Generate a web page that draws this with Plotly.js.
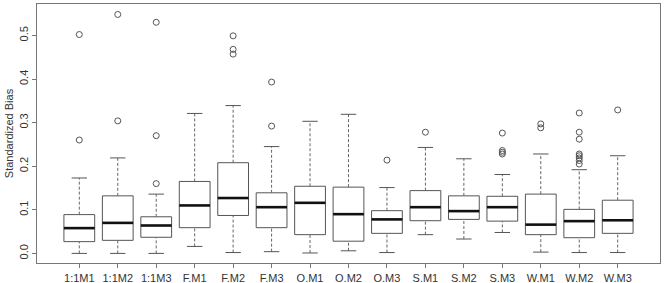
<!DOCTYPE html>
<html><head><meta charset="utf-8">
<script src="https://cdn.plot.ly/plotly-3.0.1.min.js"></script>
<style>html,body{margin:0;padding:0;background:#fff}#chart{width:664px;height:283px}</style>
</head><body><div id="chart"></div>
<script>
const labels = ['1:1M1','1:1M2','1:1M3','F.M1','F.M2','F.M3','O.M1','O.M2','O.M3','S.M1','S.M2','S.M3','W.M1','W.M2','W.M3'];
const lowW  = [0.000,0.000,0.000,0.016,0.002,0.004,0.001,0.006,0.002,0.043,0.033,0.048,0.003,0.002,0.002];
const q1    = [0.027,0.030,0.037,0.059,0.087,0.059,0.043,0.028,0.046,0.075,0.078,0.074,0.043,0.036,0.046];
const med   = [0.058,0.070,0.064,0.110,0.127,0.106,0.116,0.090,0.078,0.106,0.097,0.106,0.066,0.074,0.076];
const q3    = [0.089,0.132,0.084,0.165,0.208,0.139,0.154,0.152,0.098,0.144,0.132,0.131,0.136,0.101,0.122];
const highW = [0.173,0.219,0.136,0.321,0.339,0.245,0.303,0.319,0.151,0.243,0.217,0.181,0.228,0.192,0.224];
const outliers = [
  [0.260,0.502],[0.304,0.548],[0.160,0.270,0.530],[],[0.457,0.468,0.499],[0.292,0.393],
  [],[],[0.214],[0.278],[],[0.228,0.232,0.236,0.276],[0.288,0.297],
  [0.205,0.213,0.219,0.224,0.228,0.262,0.278,0.322],[0.329]
];

const pos = labels.map((_, i) => i + 1);
const BW = 0.8, CAP = 0.4;
const boxCol = '#555', textCol = '#333';

const wx = [], wy = [];
pos.forEach((p, i) => { wx.push(p, p, null, p, p, null); wy.push(lowW[i], q1[i], null, q3[i], highW[i], null); });
const cx = [], cy = [];
pos.forEach((p, i) => {
  cx.push(p - CAP/2, p + CAP/2, null, p - CAP/2, p + CAP/2, null);
  cy.push(lowW[i], lowW[i], null, highW[i], highW[i], null);
});
const mx = [], my = [];
pos.forEach((p, i) => { mx.push(p - BW/2, p + BW/2, null); my.push(med[i], med[i], null); });
const ox = [], oy = [];
outliers.forEach((arr, i) => arr.forEach(v => { ox.push(pos[i]); oy.push(v); }));

const traces = [
  {type:'scatter', mode:'lines', x:wx, y:wy, line:{color:'#666', width:1, dash:'3px,2px'}, hoverinfo:'skip', showlegend:false},
  {type:'scatter', mode:'lines', x:cx, y:cy, line:{color:boxCol, width:1}, hoverinfo:'skip', showlegend:false},
  {type:'box', x:pos, q1:q1, median:med, q3:q3, lowerfence:q1, upperfence:q3, width:BW,
   fillcolor:'#fff', line:{color:boxCol, width:1}, whiskerwidth:0, boxpoints:false, showlegend:false, hoverinfo:'skip'},
  {type:'scatter', mode:'lines', x:mx, y:my, line:{color:'#111', width:2.6}, hoverinfo:'skip', showlegend:false},
  {type:'scatter', mode:'markers', x:ox, y:oy, marker:{symbol:'circle-open', size:6, color:'#555', line:{width:1, color:'#555'}}, hoverinfo:'skip', showlegend:false}
];

const layout = {
  width:664, height:283,
  margin:{l:37, r:4, t:4, b:20},
  paper_bgcolor:'#fff', plot_bgcolor:'#fff',
  font:{family:'Liberation Sans, Arial, sans-serif', size:11, color:textCol},
  showlegend:false,
  xaxis:{range:[-0.1, 16.1], tickmode:'array', tickvals:pos, ticktext:labels,
         showgrid:false, zeroline:false, showline:true, mirror:true, linecolor:'#777', linewidth:1,
         ticks:'outside', ticklen:4, tickcolor:'#777', ticklabelstandoff:1, tickfont:{size:11, color:textCol}},
  yaxis:{range:[-0.022, 0.572], tickmode:'array', tickvals:[0,0.1,0.2,0.3,0.4,0.5],
         ticktext:['0.0','0.1','0.2','0.3','0.4','0.5'], tickangle:-90,
         showgrid:false, zeroline:false, showline:true, mirror:true, linecolor:'#777', linewidth:1,
         ticks:'outside', ticklen:4, tickcolor:'#777', tickfont:{size:11, color:textCol},
         title:{text:'Standardized Bias', font:{size:11, color:textCol}, standoff:1}}
};
Plotly.newPlot('chart', traces, layout, {displayModeBar:false, staticPlot:true});
</script></body></html>
